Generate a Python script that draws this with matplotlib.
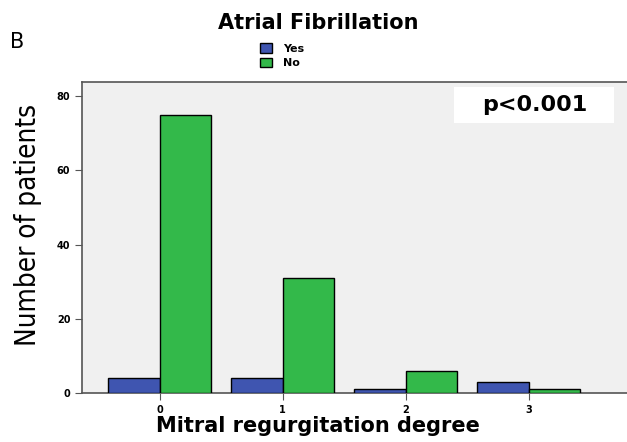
import matplotlib
matplotlib.use("Agg")
import matplotlib.pyplot as plt
import numpy as np
from matplotlib.patches import Patch, Rectangle

categories = ["0", "1", "2", "3"]
yes_counts = [4, 4, 1, 3]
no_counts = [75, 31, 6, 1]
y_ticks = [0, 20, 40, 60, 80]

fig = plt.figure(figsize=(6.27, 4.42), dpi=100)
ax = fig.add_axes([0.131, 0.111, 0.869, 0.703])
ax.set_facecolor("#f0f0f0")

x = np.arange(len(categories))
w = 0.42
ax.bar(x - w/2, yes_counts, w, color="#3f55b0", edgecolor="black", linewidth=1.0, label="Yes", zorder=3)
ax.bar(x + w/2, no_counts, w, color="#33b94a", edgecolor="black", linewidth=1.0, label="No", zorder=3)

ax.set_xlim(-0.63, 3.8)
ax.set_ylim(0, 83.8)
ax.set_xticks(x)
ax.set_xticklabels(categories, fontsize=7, fontweight="bold")
ax.set_yticks(y_ticks)
ax.set_yticklabels([str(t) for t in y_ticks], fontsize=7, fontweight="bold")
ax.tick_params(axis="both", length=5, color="#555555")
for s in ["left", "top", "bottom"]:
    ax.spines[s].set_color("#555555")
    ax.spines[s].set_linewidth(1.2)
ax.spines["right"].set_visible(False)

# white box behind p-value
ax.add_patch(Rectangle((0.683, 0.868), 0.293, 0.116, transform=ax.transAxes,
                       facecolor="white", edgecolor="none", zorder=4))
ax.text(0.83, 0.928, "p<0.001", transform=ax.transAxes, fontsize=16, fontweight="bold",
        ha="center", va="center", zorder=5)

fig.text(0.507, 0.036, "Mitral regurgitation degree", fontsize=15, fontweight="bold",
         ha="center", va="center")
fig.text(0.045, 0.49, "Number of patients", rotation=90, fontsize=20,
         family=["DejaVu Sans"], fontstretch="condensed", ha="center", va="center")

fig.text(0.507, 0.948, "Atrial Fibrillation", fontsize=15, fontweight="bold", ha="center", va="center")
fig.text(0.027, 0.905, "B", fontsize=15, ha="center", va="center")

handles = [Patch(facecolor="#3f55b0", edgecolor="black", label="Yes"),
           Patch(facecolor="#33b94a", edgecolor="black", label="No")]
fig.legend(handles=handles, loc="center", bbox_to_anchor=(0.45, 0.874), frameon=False,
           prop={"size": 8, "weight": "bold"}, handlelength=1.0, handleheight=0.9,
           labelspacing=0.35, handletextpad=1.0, borderpad=0)

fig.savefig("out.png", dpi=100)
